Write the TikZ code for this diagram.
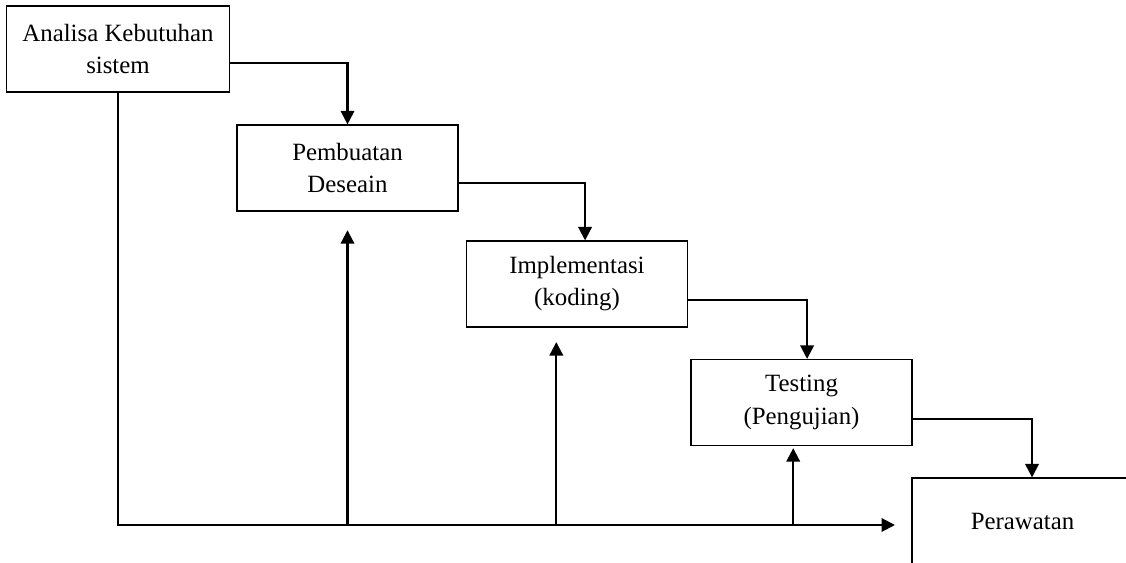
\documentclass[tikz,border=0pt]{standalone}
\usepackage{fontspec}
\setmainfont{Liberation Serif}
\usepackage{tikz}
\usetikzlibrary{arrows.meta}

\tikzset{
  tahap/.style={draw, line width=0.6pt, align=center, inner sep=0pt,
    minimum width=106.7pt, minimum height=41.5pt,
    font=\fontsize{12}{15.5}\selectfont},
  panah/.style={line width=1pt, -{Triangle[length=6.5pt,width=6.5pt]}}
}

\begin{document}
\begin{tikzpicture}[x=0.483pt, y=-0.483pt]
		\clip (0,0) rectangle (1126,563);
		\fill[white] (0,0) rectangle (1126,563);
		% tahapan
		\node[tahap, minimum width=108pt] (analisa) at (118,49) {Analisa Kebutuhan\\sistem};
		\node[tahap] (desain) at (347.5,168) {Pembuatan\\Deseain};
		\node[tahap] (koding) at (577,284) {Implementasi\\(koding)};
		\node[tahap] (testing) at (801.5,402.5) {Testing\\(Pengujian)};
		\node[tahap] (rawat) at (1022.5,521) {Perawatan};
		
		% alur turun
		\draw[panah] ([yshift=-6.8pt]analisa.east) -| (desain.north);
		\draw[panah] ([yshift=-7.2pt]desain.east) -| ([xshift=3.9pt]koding.north);
		\draw[panah] ([yshift=-7.7pt]koding.east) -| ([xshift=2.7pt]testing.north);
		\draw[panah] ([yshift=-8pt]testing.east) -| ([xshift=4.6pt]rawat.north);
		
		% alur balik
		\coordinate (ujung) at (895,525);
		\coordinate (t1) at ([yshift=-9pt]desain.south);
		\coordinate (t2) at ([xshift=-10pt,yshift=-7pt]koding.south);
		\coordinate (t3) at ([xshift=-4pt,yshift=-1pt]testing.south);
		\draw[panah] (analisa.south) |- (ujung);
		\draw[panah] (t1 |- ujung) -- (t1);
		\draw[panah] (t2 |- ujung) -- (t2);
		\draw[panah] (t3 |- ujung) -- (t3);
	\end{tikzpicture}
\end{document}
